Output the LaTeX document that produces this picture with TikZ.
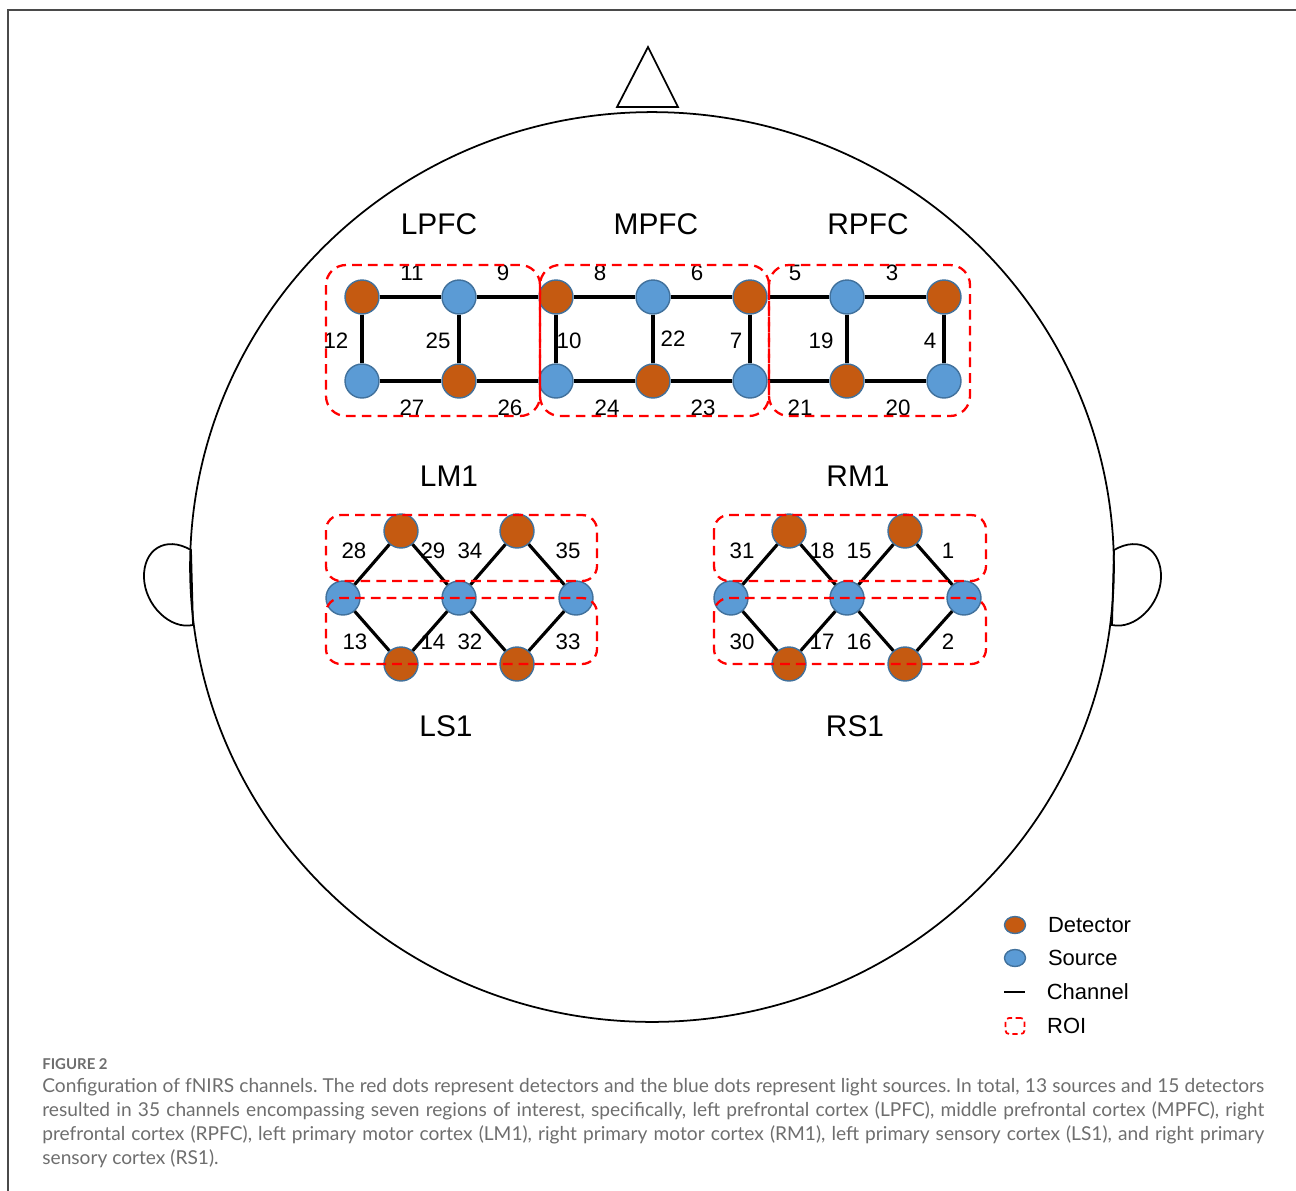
\documentclass[tikz,border=0pt]{standalone}
\usepackage{fontspec}
\setmainfont{Liberation Sans}
\newfontfamily\capfont{Lato}
\usetikzlibrary{positioning,shapes.geometric}
\definecolor{DetOrange}{HTML}{C55A11}
\definecolor{SrcBlue}{HTML}{5B9BD5}
\definecolor{RimBlue}{HTML}{41719C}
\definecolor{RoiRed}{HTML}{FF0000}
\definecolor{CapGray}{HTML}{6E6E6E}
\definecolor{FrameGray}{HTML}{4A4A4A}
\tikzset{
  % Optode dot: fill colour as argument
  optode/.style={
    circle, draw=RimBlue, line width=0.8pt, fill=#1,
    minimum size=0.68cm, inner sep=0pt
  },
  % Legend dot
  keydot/.style={
    ellipse, draw=RimBlue, line width=0.8pt, fill=#1,
    minimum width=0.42cm, minimum height=0.34cm, inner sep=0pt
  },
  % Channel line
  chan/.style={line width=1.8pt, black},
  % ROI outline
  roi/.style={
    draw=RoiRed, line width=1.3pt, rounded corners=0.4cm,
    dash pattern=on 5.5pt off 3.5pt
  },
  % Channel number
  num/.style={font=\fontsize{12.7}{14}\selectfont, inner sep=0pt},
  % Region name
  reg/.style={font=\fontsize{17}{19}\selectfont, inner sep=0pt},
  % Legend text
  keytxt/.style={font=\fontsize{12.5}{14}\selectfont, inner sep=0pt, anchor=west}
}

\begin{document}
\frenchspacing
\begin{tikzpicture}[x=0.02cm, y=-0.02cm]

  \useasboundingbox (0,0) rectangle (1296,1191);

  % Frame
  \draw[FrameGray, line width=0.8pt] (8,1191) -- (8,10) -- (1296,10);

  % Head, nose and ears
  \draw[line width=1pt] (652,567) ellipse [x radius=9.24cm, y radius=9.1cm];
  \draw[line width=1pt, fill=white] (617,107) -- (648,47) -- (678,107) -- cycle;
  \draw[line width=1pt] (191,550) .. controls (165,535) and (143,550) .. (144,578)
    .. controls (145,605) and (170,630) .. (193,625) -- cycle;
  \draw[line width=1pt] (1114,550) .. controls (1140,535) and (1162,550) .. (1161,578)
    .. controls (1160,605) and (1135,630) .. (1112,625) -- cycle;

  % Region names
  \node[reg] (lpfc) at (439,224) {LPFC};
  \node[reg] (mpfc) at (656,224) {MPFC};
  \node[reg] (rpfc) at (868,224) {RPFC};
  \node[reg] (lm1) at (449,476) {LM1};
  \node[reg] (rm1) at (858,476) {RM1};
  \node[reg] (ls1) at (446,726) {LS1};
  \node[reg] (rs1) at (855,726) {RS1};

  % Prefrontal optodes (two rows)
  \foreach \i/\x/\cu/\cd in {1/362/DetOrange/SrcBlue, 2/459/SrcBlue/DetOrange,
      3/556/DetOrange/SrcBlue, 4/653/SrcBlue/DetOrange, 5/750/DetOrange/SrcBlue,
      6/847/SrcBlue/DetOrange, 7/944/DetOrange/SrcBlue}{
    \node[optode=\cu] (t\i) at (\x,297) {};
    \node[optode=\cd] (b\i) at (\x,381) {};
    \draw[chan] (t\i) -- (b\i);
  }
  \foreach \i [evaluate=\i as \j using int(\i+1)] in {1,...,6}{
    \draw[chan] (t\i) -- (t\j);
    \draw[chan] (b\i) -- (b\j);
  }

  % Motor / sensory optodes (left and right)
  \foreach \side/\dx in {l/0, r/388}{
    \node[optode=DetOrange] (\side t1) at (401+\dx,531) {};
    \node[optode=DetOrange] (\side t2) at (517+\dx,531) {};
    \node[optode=SrcBlue] (\side m1) at (343+\dx,598) {};
    \node[optode=SrcBlue] (\side m2) at (459+\dx,598) {};
    \node[optode=SrcBlue] (\side m3) at (576+\dx,598) {};
    \node[optode=DetOrange] (\side b1) at (401+\dx,664) {};
    \node[optode=DetOrange] (\side b2) at (517+\dx,664) {};
    \draw[chan] (\side m1) -- (\side t1) -- (\side m2) -- (\side t2) -- (\side m3);
    \draw[chan] (\side m1) -- (\side b1) -- (\side m2) -- (\side b2) -- (\side m3);
  }

  % Channel numbers
  \foreach \n/\x/\y in {11/412/273, 9/503/273, 8/600/273, 6/697/273, 5/795/273,
      3/892/273, 12/336/341, 25/438/341, 10/569/341, 22/673/339, 7/736/341,
      19/821/341, 4/930/341, 27/412/408, 26/510/408, 24/607/408, 23/703/408,
      21/800/408, 20/898/408,
      28/354/551, 29/433/551, 34/470/551, 35/568/551, 13/355/642, 14/433/642,
      32/470/642, 33/568/642, 31/742/551, 18/822/551, 15/859/551, 1/948/551,
      30/742/642, 17/822/642, 16/859/642, 2/948/642}{
    \node[num] (c\n) at (\x,\y) {\n};
  }

  % ROIs
  \draw[roi] (326,265) rectangle (540,416);
  \draw[roi] (540,265) rectangle (769,416);
  \draw[roi] (769,265) rectangle (970,416);
  \draw[roi, rounded corners=0.3cm] (326,515) rectangle (597,581);
  \draw[roi, rounded corners=0.3cm] (326,598) rectangle (597,664);
  \draw[roi, rounded corners=0.3cm] (714,515) rectangle (986,581);
  \draw[roi, rounded corners=0.3cm] (714,598) rectangle (986,664);

  % Legend
  \node[keydot=DetOrange] (kdet) at (1015,925) {};
  \node[keydot=SrcBlue] (ksrc) at (1015,958) {};
  \coordinate (kch1) at (1004,992);
  \coordinate (kch2) at (1025,992);
  \draw[line width=1.1pt] (kch1) -- (kch2);
  \node[draw=RoiRed, line width=1pt, rounded corners=2pt, dash pattern=on 3pt off 2pt,
        minimum width=0.38cm, minimum height=0.32cm, inner sep=0pt] (kroi) at (1015,1026) {};
  \node[keytxt, right=0.43cm of kdet] (tdet) {Detector};
  \node[keytxt, right=0.43cm of ksrc] (tsrc) {Source};
  \node[keytxt, right=0.43cm of kch2] (tch) {Channel};
  \node[keytxt, right=0.43cm of kroi] (troi) {ROI};

  % Caption
  \node[anchor=west, inner sep=0pt, text=CapGray,
        font=\capfont\bfseries\fontsize{8.5}{10}\selectfont] (fig) at (42,1064) {FIGURE 2};
  \node[anchor=north west, inner sep=0pt, text=CapGray, align=justify, text width=24.44cm,
        font=\capfont\fontsize{10.9}{13.6}\selectfont] (cap) at (42,1078)
    {Configuration of fNIRS channels. The red dots represent detectors and the blue dots represent light sources. In total, 13 sources and 15 detectors\linebreak
     resulted in 35 channels encompassing seven regions of interest, specifically, left prefrontal cortex (LPFC), middle prefrontal cortex (MPFC), right\linebreak
     prefrontal cortex (RPFC), left primary motor cortex (LM1), right primary motor cortex (RM1), left primary sensory cortex (LS1), and right primary\linebreak
     sensory cortex (RS1).};

\end{tikzpicture}
\end{document}
